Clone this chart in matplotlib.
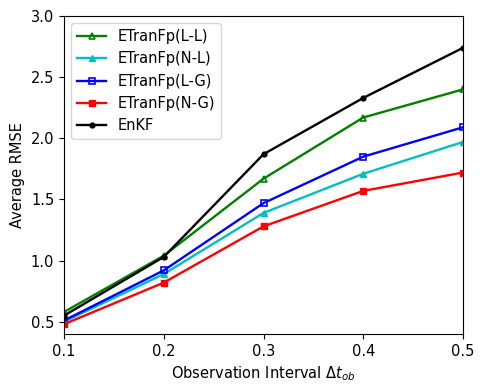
import matplotlib
matplotlib.use("Agg")
import matplotlib.pyplot as plt

intervals = [0.1, 0.2, 0.3, 0.4, 0.5]
rmse_ll = [0.58, 1.04, 1.67, 2.17, 2.40]
rmse_nl = [0.50, 0.89, 1.39, 1.71, 1.97]
rmse_lg = [0.51, 0.92, 1.47, 1.85, 2.09]
rmse_ng = [0.48, 0.82, 1.28, 1.57, 1.72]
rmse_enkf = [0.55, 1.03, 1.87, 2.33, 2.74]

plt.rcParams["font.size"] = 10.5

fig = plt.figure(figsize=(4.86, 3.89), dpi=100)
ax = fig.add_axes([64 / 486, 1 - 334 / 389, (463 - 64) / 486, (334 - 16) / 389])

ax.plot(intervals, rmse_ll, color="green", marker="^", mfc="none", ms=5, mew=1.2, lw=1.7, label="ETranFp(L-L)")
ax.plot(intervals, rmse_nl, color="c", marker="^", ms=5, lw=1.7, label="ETranFp(N-L)")
ax.plot(intervals, rmse_lg, color="blue", marker="s", mfc="none", ms=5, mew=1.2, lw=1.7, label="ETranFp(L-G)")
ax.plot(intervals, rmse_ng, color="red", marker="s", ms=5, lw=1.7, label="ETranFp(N-G)")
ax.plot(intervals, rmse_enkf, color="black", marker="o", ms=3.5, lw=1.7, label="EnKF")

ax.set_xlim(0.1, 0.5)
ax.set_ylim(0.4, 3.0)
ax.set_xticks([0.1, 0.2, 0.3, 0.4, 0.5])
ax.set_yticks([0.5, 1.0, 1.5, 2.0, 2.5, 3.0])
ax.set_xlabel(r"Observation Interval $\Delta t_{ob}$")
ax.set_ylabel("Average RMSE")
ax.legend(loc="upper left")

fig.savefig("out.png", dpi=100)
